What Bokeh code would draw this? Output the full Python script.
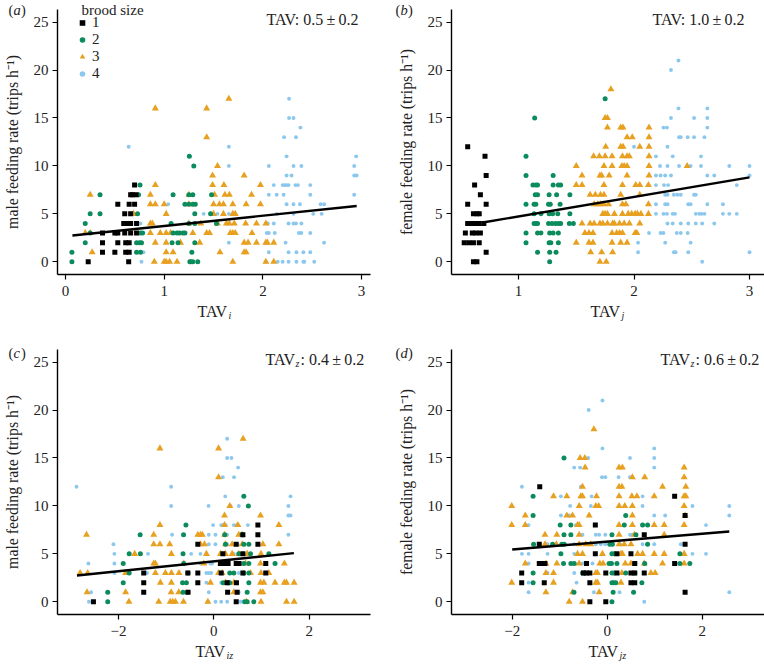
from bokeh.embed import file_html
from bokeh.resources import INLINE
from bokeh.plotting import figure
from bokeh.layouts import column, row
from bokeh.models import Label, Legend, LegendItem, Range1d, FixedTicker

SERIF = "Liberation Serif"
BLACK, GREEN, ORANGE, BLUE = "#000000", "#0C8C5C", "#E8A020", "#8CC8EE"

# Each dict: feeding rate (trips/h) -> TAV values at that rate.
# Panel a: male feeding rate vs TAV_i
a1 = {0:[.23,.64],1:[.375,.50,.61,.645],2:[.375,.53,.61,.645],3:[.375,.50,.53,.60,.66,.72],4:[.59,.62,.66,.72],5:[.60,.66],6:[.53,.645,.70],7:[.66,.68,.715],8:[.70]}
a2 = {0:[.065,1.26,1.27,1.29,1.34],1:[.065,.72,.76,1.28],2:[.20,.72,.75,.77,1.08,1.14,1.31],3:[.25,.76,.78,1.09,1.13,1.155,1.19,1.21],4:[.20,1.07,1.25,1.31,1.53],5:[.25,.35,.73,1.31,1.47],6:[1.21,1.25,1.29,1.315],7:[.35,.74,1.09,1.25,1.29,1.48],8:[.755],10:[1.30],11:[1.255]}
a3 = {0:[.90,1.00,1.02,1.055,1.13,1.695,2.03,2.11],1:[.27,1.02,1.09,1.565,1.81,1.83],2:[.91,1.02,1.165,1.36,1.81,1.85,1.935,2.03,2.045,2.11],3:[.20,.25,.86,.96,1.02,1.065,1.29,1.43,1.46,1.67,1.695,1.72,1.89],4:[.86,.88,1.25,1.37,1.54,1.63,1.66,1.71,1.825,1.935,2.03],5:[.69,1.02,1.50,1.60,1.695,1.72],6:[.86,.91,1.0,1.25,1.50,1.56,1.60,1.695,1.83,1.975],7:[.25,.86,1.25,1.51,1.615,1.66,1.885],8:[.91,1.49,1.605,1.975],9:[1.49,1.81],10:[1.54],13:[1.43],16:[.91,1.43],17:[1.655]}
a4 = {0:[.77,2.03,2.15,2.20,2.26,2.34,2.41,2.42,2.52],1:[.79,2.06,2.26,2.34,2.41,2.48],2:[1.655,2.23,2.62],3:[.79,2.04,2.06,2.12,2.365,2.39,2.48],4:[.76,2.05,2.11,2.26,2.31,2.335,2.39],5:[1.40,1.54,1.655,2.14,2.31,2.51,2.595],6:[1.04,2.24,2.31,2.375,2.585,2.62],7:[2.06,2.14,2.21,2.48,2.925],8:[2.11,2.20,2.22,2.24,2.26,2.33,2.355,2.48],9:[2.24,2.29,2.925,2.95],10:[1.655,2.06,2.31,2.39,2.925],11:[2.24,2.945],12:[.64,1.655],13:[2.215,2.335],14:[2.38],15:[2.265,2.31],17:[2.265]}
a_fit_x = [.07, 2.95]
a_fit_y = [2.75, 5.82]

# Panel b: female feeding rate vs TAV_j
b1 = {0:[.61,.64],1:[.72],2:[.53,.57,.61,.66],3:[.54,.60,.63,.67],4:[.56,.59,.62,.66,.70],5:[.61,.64,.66],6:[.56,.72],7:[.67],8:[.62],9:[.72],11:[.71],12:[.56]}
b2 = {0:[1.27],1:[1.165,1.27,1.325],2:[1.065,1.265,1.28,1.345],3:[1.065,1.165,1.195,1.27,1.30,1.345],4:[1.135,1.15,1.165,1.26,1.29,1.32,1.345,1.365,1.44,1.475],5:[1.135,1.195,1.265,1.295,1.34,1.445],6:[1.065,1.135,1.15,1.26,1.275,1.36],7:[1.145,1.165,1.265,1.33,1.445],8:[1.125,1.15,1.165,1.30,1.345,1.365],9:[1.065,1.30],11:[1.065],15:[1.14],17:[1.75]}
b3 = {0:[1.705,1.76],1:[1.625,1.72,1.815],2:[1.50,1.61,1.645,1.81,1.885,1.94],3:[1.575,1.61,1.645,1.81,1.85,1.875,1.90,2.01,2.025],4:[1.55,1.62,1.655,1.705,1.73,1.77,1.815,1.83,1.875,1.915,1.96,2.05],5:[1.73,1.75,1.77,1.83,1.90,1.95,1.98,2.01,2.03,2.06,2.125],6:[1.655,1.685,1.71,1.74,1.78,1.90,1.93,2.125],7:[1.62,1.665,1.71,1.74,1.885,2.05],8:[1.50,1.55,1.74,1.90,2.015,2.05,2.125],9:[1.55,1.705,1.72,1.785,1.94,2.13],10:[1.50,1.74,1.81,1.895,1.915,1.94,2.13,2.46],11:[1.65,1.70,1.75,1.81,1.90,1.94,1.96,2.13],12:[1.755,1.885,1.905,2.05,2.13],13:[1.94,1.985,2.13],14:[1.77,1.885,1.905,2.13],15:[1.75,1.77],18:[1.80]}
b4 = {0:[2.59],1:[2.035,2.345,2.36,2.47,3.0],2:[2.035,2.27,2.49],3:[2.13,2.23,2.255,2.37,2.405,2.465],4:[2.29,2.335,2.405,2.47,2.535,2.59,2.695],5:[2.19,2.255,2.285,2.335,2.355,2.535,2.565,2.585,2.61,2.77,2.825,2.89],6:[2.19,2.27,2.29,2.47,2.49,2.635,2.77],7:[2.27,2.29,2.345,2.375,2.405,2.52,2.535],8:[2.19,2.26,2.295,2.89],9:[2.19,2.23,2.27,2.32,2.635,2.695,3.0],10:[2.225,2.29,2.39,2.49,2.58,2.825,3.0],11:[2.19,2.335,2.58],12:[2.0,2.29],13:[2.39,2.405,2.465,2.52,2.61],14:[2.255,2.285,2.635],15:[2.32,2.52,2.635],16:[2.385,2.635],20:[2.32],21:[2.385]}
b_fit_x = [.69, 3.0]
b_fit_y = [4.1, 8.8]

# Panel c: male feeding rate vs TAV_iz
c1 = {0:[-2.525,.47],1:[-1.47,-.54,.29,.49],2:[-1.47,-.335,.28,.475],3:[-1.47,-.545,-.335,.155,.61,1.09],4:[.14,.19,.245,.30,.47,.53,1.09],5:[.19,.61],6:[-.335,.47,.925],7:[.61,.925],8:[.925]}
c2 = {0:[-2.225,.65,.70,.84],1:[-2.225,-.645,-.56,.70],2:[-1.90,-.655,-.575,.195,.30,.335,.735],3:[-1.775,-.54,.335,.42,.63,.735],4:[-1.90,-.63,.63,.735,1.285],5:[-1.775,-1.54,-.645,.525,.77,1.155],6:[.245,.63,.735],7:[-1.545,-.635,.23,.595],8:[-.585],10:[.725],11:[.63]}
c3 = {0:[-1.78,-1.155,-.915,-.86,-.805,-.635,-.125,.685,.99,1.525,1.685],1:[-2.66,-1.85,-.895,-.735,.42,.98,1.03],2:[-1.12,-.89,-.07,.245,.42,.98,1.05,1.285,1.48,1.525,1.685],3:[-2.805,-2.645,-1.85,-1.225,-1.015,-.89,-.73,.10,.175,.77,.99,1.155],4:[-1.26,-1.225,-.63,-.21,.14,.28,.665,.98,1.48],5:[-1.66,-.89,-.155,.14,.245,.385,.525,.70,.99],6:[-1.26,-1.13,-.925,-.28,-.195,.245,.385,.595,1.03,1.365],7:[-2.67,-1.26,-.335,-.28,-.24,.225,.525,.595],8:[-1.13,.225,.505,1.365],9:[.225,.98],10:[.335],13:[.10],16:[-1.13,.10],17:[.615]}
c4 = {0:[-2.62,-.125,.035,.155,.28,.56,.615],1:[-2.575,-.105,.525],2:[-.155,.155],3:[-2.085,-1.40,-.155,-.105,-.055,.42,.525],4:[-2.63,-2.085,-.28,-.07,-.035],5:[-2.085,-1.38,-.475,-.28,.42,.77],6:[-2.105,-.105,.035,.28,.50],7:[-.875,-.105,.035,.28,1.565],8:[-.015,.155,.195,.25,.42,.475,.715],9:[1.565,1.61],10:[-.895,-.11,.35,.525,1.565],11:[.24,1.61],12:[-2.88,-.895],13:[.19,.425],14:[.51],15:[.28,.37],17:[.28]}
c_fit_x = [-2.87, 1.68]
c_fit_y = [2.75, 5.08]

# Panel d: female feeding rate vs TAV_jz
d1 = {0:[-.365,-.03],1:[1.64],2:[-1.80,-1.325,-.365,.50,.58],3:[-1.80,-.50,-.435,-.365,-.03,.205,.50,.58,.78],4:[-1.43,-1.38,-1.31,-.435,.58,1.42],5:[-.25,.205,.50],6:[-1.43,1.64],7:[.78],8:[-.25],9:[1.64],11:[1.42],12:[-1.42]}
d2 = {0:[.10],1:[-.70,.125,.555],2:[-1.56,.10,.135,.18,.73],3:[-1.56,-.52,-.485,.10,.145,.39,.58],4:[-.92,-.765,-.695,.04,.09,.205,.58,.79,1.53,1.74],5:[-.975,.10,.15,1.53],6:[-1.55,-1.15,-.955,-.905,.055,.11,.85],7:[-.91,-.765,.10,.605],8:[-.99,-.765,.36,.745,.85],9:[-1.56,.39],11:[-1.56],15:[-.91]}
d3 = {0:[-.80,-.52],1:[-1.29,-.73,-.17],2:[-2.01,-1.13,-.24,-.205,.29],3:[-1.29,-1.13,-.24,-.205,.31,.92,1.01],4:[-1.725,-1.29,-1.06,-.59,-.155,-.085,.38,.50,.78,1.165,1.62],5:[-.625,-.52,-.10,.29,.32,.64,.745,.99,1.20,1.62],6:[-1.31,-1.07,-.59,-.45,-.345,.25,.36,.50],7:[-1.31,-1.06,-.59,.25,.57,1.20],8:[-2.01,-1.725,-.625,-.59,.25,.53,.99,1.20,1.62],9:[-1.725,-.85,-.73,-.38,.53,1.64],10:[-2.01,-.59,-.24,-.18,.25,.37,.53,1.62],11:[-1.13,-.85,-.555,-.52,-.225,.25,.52,.625,.99,1.62,1.655],12:[-.52,.25,.31,1.165,1.655],13:[.53,.79,1.62],14:[-.465,.25,.32,1.62],15:[-.57,-.47],18:[-.28]}
d4 = {0:[.78],1:[-1.655,-.28,.26,2.57],2:[-1.655,-.645],3:[-1.255,-.695],4:[-1.655,-.52,-.31],5:[-1.795,-1.655,-1.255,-.695,1.795,2.08],6:[-1.255,-.695,-.24,-.135,-.04,.27,.745,.99,1.55],7:[-.52,-.24,-.17,-.04,.48,.53],8:[-1.655,-.66,-.625,2.08],9:[-.975,-.80,-.38,.99,1.22,2.57],10:[-.78,-.345,.745,1.795,2.57],11:[-.975,-.33,.745],12:[-1.795,-.555],13:[-.11,-.04,.24,.48],14:[-.695,-.57,.99],15:[-.40,.48,.99],16:[-.10,.99],20:[-.39],21:[-.10]}
d_fit_x = [-2.0, 2.57]
d_fit_y = [5.46, 7.34]


def flat(rows):
    xs, ys = [], []
    for rate, vals in rows.items():
        for v in vals:
            xs.append(v)
            ys.append(rate)
    return xs, ys


PAGE_W, PAGE_H = 382, 332


def panel(series, fit_x, fit_y, xticks, geom, ylabel, legend=False):
    left, right, top, bottom, x_a, px_a, px_per_x = geom
    y0_px, px_per_y = top + 252.3, 9.587   # y=0 row, px from figure top
    frame_r = PAGE_W - right
    frame_b = PAGE_H - bottom
    xr = Range1d(x_a + (left - px_a) / px_per_x, x_a + (frame_r - px_a) / px_per_x)
    yr = Range1d((y0_px - frame_b) / px_per_y, (y0_px - top) / px_per_y)
    p = figure(width=PAGE_W, height=PAGE_H, x_range=xr, y_range=yr,
               output_backend="svg", toolbar_location=None,
               min_border_left=left, min_border_right=right,
               min_border_top=top, min_border_bottom=bottom,
               outline_line_color=None)
    p.grid.visible = False
    p.background_fill_color = None
    p.border_fill_color = None
    p.xaxis.ticker = FixedTicker(ticks=xticks)
    p.yaxis.ticker = FixedTicker(ticks=[0, 5, 10, 15, 20, 25])
    for ax in (p.xaxis[0], p.yaxis[0]):
        ax.axis_line_color = "#000000"
        ax.axis_line_width = 1.4
        ax.major_tick_line_color = "#000000"
        ax.major_tick_line_width = 1.2
        ax.major_tick_in = 0
        ax.major_tick_out = 5
        ax.minor_tick_line_color = None
        ax.major_label_text_font = SERIF
        ax.major_label_text_font_size = "15px"
        ax.major_label_text_color = "#222222"
        ax.major_label_standoff = 4
    p.xaxis[0].major_label_standoff = 6
    p.xaxis[0].major_label_overrides = {t: str(t).replace("-", "\u2212") for t in xticks}
    p.yaxis[0].axis_label = ylabel
    p.yaxis[0].axis_label_text_font = SERIF
    p.yaxis[0].axis_label_text_font_style = "normal"
    p.yaxis[0].axis_label_text_font_size = "15.8px"
    p.yaxis[0].axis_label_text_color = "#222222"
    p.yaxis[0].axis_label_standoff = 10

    s1, s2, s3, s4 = series
    x4, y4 = flat(s4)
    x3, y3 = flat(s3)
    x2, y2 = flat(s2)
    x1, y1 = flat(s1)
    r4 = p.scatter(x4, y4, marker="circle", size=3.9, color=BLUE, line_width=0)
    r3 = p.scatter(x3, y3, marker="triangle", size=7, color=ORANGE, line_width=0)
    r2 = p.scatter(x2, y2, marker="circle", size=5, color=GREEN, line_width=0)
    r1 = p.scatter(x1, y1, marker="square", size=5, color=BLACK, line_width=0)
    p.line(fit_x, fit_y, line_color="#000000", line_width=2.4)

    if legend:
        lg = Legend(items=[LegendItem(label="1", renderers=[r1]),
                           LegendItem(label="2", renderers=[r2]),
                           LegendItem(label="3", renderers=[r3]),
                           LegendItem(label="4", renderers=[r4])],
                    location=(18, 192),
                    background_fill_alpha=0, border_line_color=None,
                    margin=0, padding=0, spacing=0,
                    glyph_width=14, glyph_height=17, label_height=16, label_width=10,
                    label_standoff=3,
                    label_text_font=SERIF, label_text_font_size="15px",
                    label_text_color="#222222")
        p.add_layout(lg)
    return p


pa = panel((a1, a2, a3, a4), a_fit_x, a_fit_y, [0, 1, 2, 3],
           (57, 12, 9, 58, 0, 65, 98.7), "male feeding rate (trips h\u207b\u00b9)", legend=True)
pb = panel((b1, b2, b3, b4), b_fit_x, b_fit_y, [1, 2, 3],
           (69, 0, 9, 58, 1, 136, 115.5), "female feeding rate (trips h\u207b\u00b9)")
pc = panel((c1, c2, c3, c4), c_fit_x, c_fit_y, [-2, 0, 2],
           (57, 12, 17, 50, 0, 213.3, 47.67), "male feeding rate (trips h\u207b\u00b9)")
pd_ = panel((d1, d2, d3, d4), d_fit_x, d_fit_y, [-2, 0, 2],
            (69, 0, 17, 50, 0, 224.7, 47.5), "female feeding rate (trips h\u207b\u00b9)")

# Transparent page-sized figure holding the free-standing texts, in page pixels.
over = figure(width=764, height=664, x_range=Range1d(0, 764), y_range=Range1d(664, 0),
              output_backend="svg", toolbar_location=None,
              x_axis_location=None, y_axis_location=None,
              min_border=0, outline_line_color=None,
              margin=(-664, 0, 0, 0))
over.grid.visible = False
over.background_fill_color = None
over.border_fill_color = None


def txt(px, py, s, size="16px", style="normal"):
    over.add_layout(Label(x=px, y=py, text=s, text_font=SERIF, text_font_size=size,
                          text_font_style=style, text_align="left",
                          text_baseline="middle", text_color="#222222"))


def tag(px, py, letter):
    txt(px, py, "(", "14.5px")
    txt(px + 5, py, letter, "14.5px", "italic")
    txt(px + 12.5, py, ")", "14.5px")


PM = "\u2009\u00b1\u2009"
txt(81, 9, "brood size", "15px")
tag(8, 9, "a")
txt(266, 19, "TAV: 0.5" + PM + "0.2")
txt(197, 311, "TAV")
txt(228, 315, "i", "10px", "italic")

tag(395, 9, "b")
txt(652, 19, "TAV: 1.0" + PM + "0.2")
txt(590, 311, "TAV")
txt(621, 315, "j", "10px", "italic")

tag(8, 352, "c")
txt(265, 359, "TAV")
txt(295, 363, "z", "10px", "italic")
txt(300, 359, ": 0.4" + PM + "0.2")
txt(195, 651, "TAV")
txt(226, 655, "iz", "10px", "italic")

tag(395, 352, "d")
txt(660, 359, "TAV")
txt(690, 363, "z", "10px", "italic")
txt(695, 359, ": 0.6" + PM + "0.2")
txt(588, 651, "TAV")
txt(619, 655, "jz", "10px", "italic")

page = column(row(pa, pb), row(pc, pd_), over)
open("out.html", "w").write(file_html(page, INLINE))
